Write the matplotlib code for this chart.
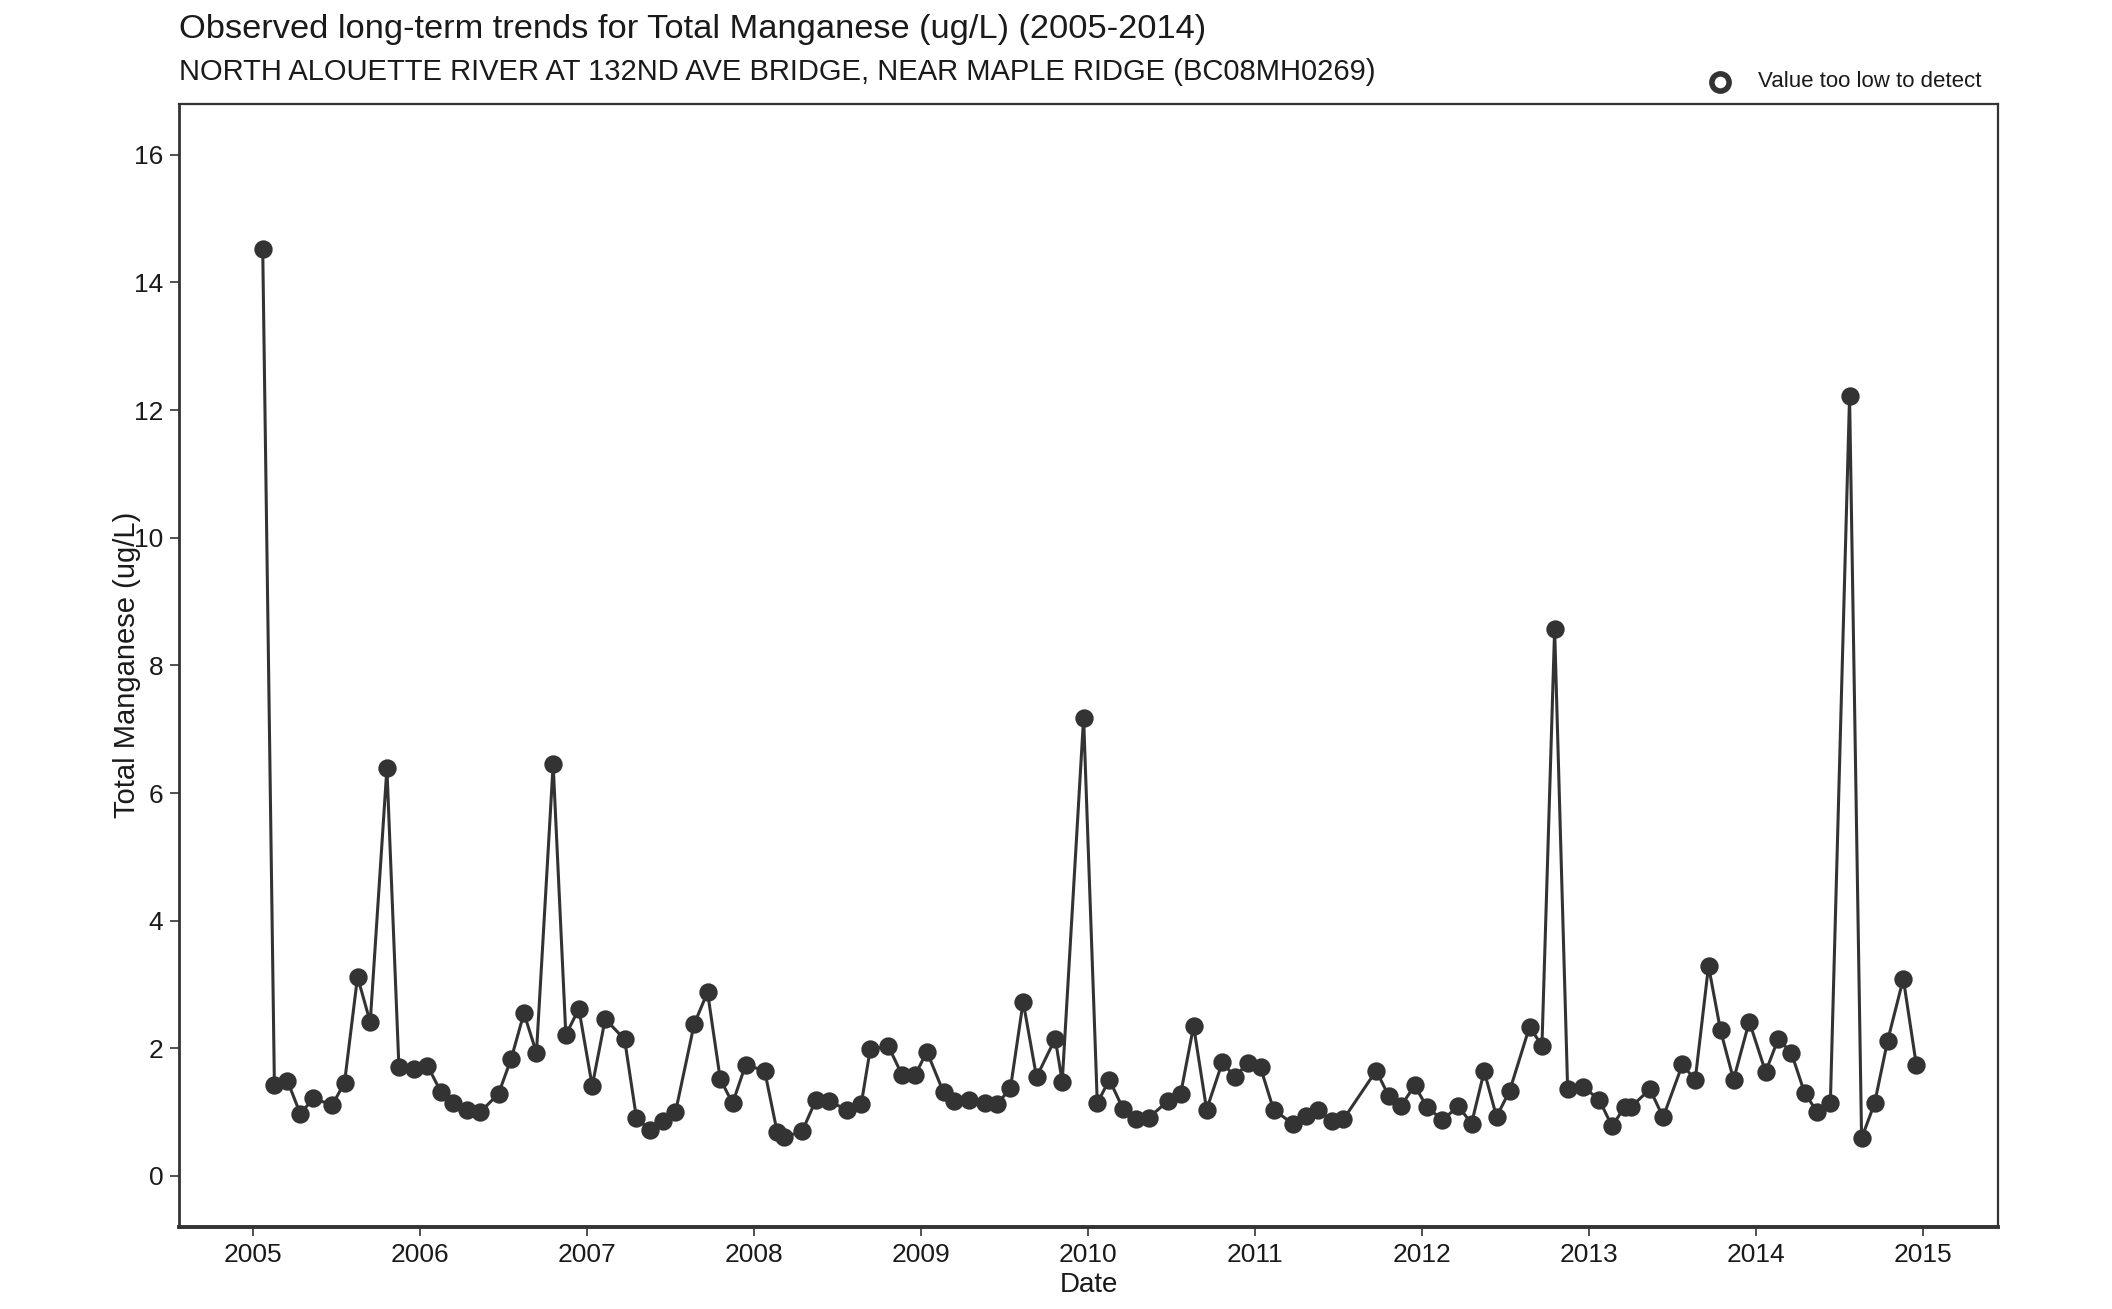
import matplotlib.pyplot as plt
from matplotlib.lines import Line2D

# sample dates as decimal years, values in ug/L
dates = [2005.056, 2005.126, 2005.204, 2005.282, 2005.358, 2005.472, 2005.546, 2005.624,
         2005.700, 2005.800, 2005.872, 2005.965, 2006.043, 2006.123, 2006.197, 2006.277,
         2006.359, 2006.469, 2006.545, 2006.621, 2006.696, 2006.796, 2006.872, 2006.950,
         2007.030, 2007.108, 2007.224, 2007.295, 2007.376, 2007.454, 2007.529, 2007.641,
         2007.721, 2007.797, 2007.871, 2007.949, 2008.063, 2008.138, 2008.178, 2008.288,
         2008.370, 2008.448, 2008.556, 2008.642, 2008.696, 2008.805, 2008.887, 2008.965,
         2009.035, 2009.135, 2009.197, 2009.287, 2009.385, 2009.458, 2009.536, 2009.612,
         2009.692, 2009.804, 2009.846, 2009.974, 2010.056, 2010.128, 2010.211, 2010.287,
         2010.363, 2010.477, 2010.555, 2010.633, 2010.711, 2010.805, 2010.881, 2010.956,
         2011.034, 2011.112, 2011.226, 2011.304, 2011.380, 2011.462, 2011.531, 2011.727,
         2011.801, 2011.877, 2011.957, 2012.031, 2012.123, 2012.220, 2012.298, 2012.374,
         2012.448, 2012.526, 2012.646, 2012.720, 2012.796, 2012.874, 2012.968, 2013.064,
         2013.140, 2013.215, 2013.253, 2013.367, 2013.446, 2013.562, 2013.638, 2013.718,
         2013.790, 2013.868, 2013.962, 2014.060, 2014.136, 2014.214, 2014.294, 2014.370,
         2014.448, 2014.563, 2014.635, 2014.713, 2014.791, 2014.885, 2014.963]
values = [14.52, 1.42, 1.49, 0.97, 1.22, 1.11, 1.46, 3.12,
          2.41, 6.39, 1.70, 1.68, 1.73, 1.32, 1.15, 1.04,
          1.00, 1.29, 1.84, 2.55, 1.93, 6.45, 2.21, 2.62,
          1.41, 2.46, 2.14, 0.91, 0.72, 0.86, 1.00, 2.38,
          2.88, 1.52, 1.14, 1.74, 1.65, 0.69, 0.61, 0.70,
          1.19, 1.17, 1.04, 1.13, 1.99, 2.03, 1.58, 1.58,
          1.95, 1.31, 1.17, 1.19, 1.14, 1.13, 1.38, 2.73,
          1.55, 2.15, 1.48, 7.18, 1.14, 1.51, 1.05, 0.89,
          0.91, 1.17, 1.28, 2.35, 1.04, 1.78, 1.55, 1.77,
          1.70, 1.04, 0.82, 0.94, 1.03, 0.86, 0.89, 1.65,
          1.26, 1.10, 1.42, 1.08, 0.88, 1.09, 0.82, 1.64,
          0.93, 1.33, 2.34, 2.04, 8.57, 1.36, 1.40, 1.19,
          0.78, 1.08, 1.08, 1.36, 0.92, 1.75, 1.50, 3.29,
          2.28, 1.51, 2.42, 1.63, 2.15, 1.93, 1.30, 1.00,
          1.15, 12.22, 0.59, 1.14, 2.12, 3.09, 1.74]

year_ticks = list(range(2005, 2016))
y_ticks = list(range(0, 17, 2))

plt.rcParams['font.family'] = ['Liberation Sans', 'DejaVu Sans']
dark = '#333333'
txt = '#1a1a1a'

fig = plt.figure(figsize=(10.56, 6.545), dpi=200)
ax = fig.add_axes([0.0848, 0.0626, 0.8612, 0.8582])

ax.plot(dates, values, color=dark, lw=1.1, marker='o', markersize=5.6,
        markerfacecolor=dark, markeredgecolor=dark, zorder=3)

ax.set_xlim(2004.555, 2015.452)
ax.set_ylim(-0.8, 16.8)
ax.set_xticks(year_ticks)
ax.set_xticklabels([str(y) for y in year_ticks])
ax.set_yticks(y_ticks)

for s in ax.spines.values():
    s.set_color(dark)
    s.set_linewidth(0.8)
ax.spines['bottom'].set_linewidth(1.4)
ax.spines['left'].set_linewidth(1.0)
ax.tick_params(direction='out', length=3.2, width=0.6, color=dark,
               labelsize=9.5, labelcolor=txt, pad=2.5)

ax.set_xlabel('Date', fontsize=10, color=txt, labelpad=2)
ax.set_ylabel('Total Manganese (ug/L)', fontsize=10.5, color=txt, labelpad=-2.4)

fig.text(0.0848, 0.971, 'Observed long-term trends for Total Manganese (ug/L) (2005-2014)',
         fontsize=12.4, color=txt, va='baseline', ha='left')
fig.text(0.0848, 0.939, 'NORTH ALOUETTE RIVER AT 132ND AVE BRIDGE, NEAR MAPLE RIDGE (BC08MH0269)',
         fontsize=10.5, color=txt, va='baseline', ha='left')

# legend for non-detects (no such points in this series)
fig.add_artist(Line2D([1720 / 2112], [1 - 81.7 / 1309], marker='o', markersize=6.2,
                      markerfacecolor='white', markeredgecolor=dark, markeredgewidth=2.0,
                      linestyle='none', transform=fig.transFigure))
fig.text(1758 / 2112, 1 - 81.7 / 1309, 'Value too low to detect', fontsize=8,
         color=txt, va='center', ha='left')

fig.savefig('out.png', dpi=200)
